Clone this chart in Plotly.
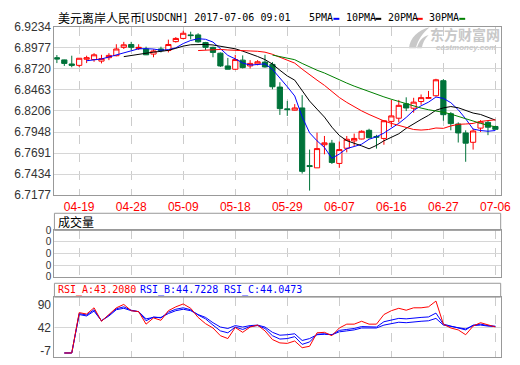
import plotly.graph_objects as go
import pandas as pd

dates = ["04-14", "04-17", "04-18", "04-19", "04-20", "04-21", "04-24", "04-25", "04-26", "04-27", "04-28",
         "05-01", "05-02", "05-03", "05-04", "05-05", "05-08", "05-09", "05-10", "05-11", "05-12",
         "05-15", "05-16", "05-17", "05-18", "05-19", "05-22", "05-23", "05-24", "05-25", "05-26",
         "05-29", "05-30", "05-31", "06-01", "06-02", "06-05", "06-06", "06-07", "06-08", "06-09",
         "06-12", "06-13", "06-14", "06-15", "06-16", "06-19", "06-20", "06-21", "06-22", "06-23",
         "06-26", "06-27", "06-28", "06-29", "06-30", "07-03", "07-04", "07-05", "07-06"]

opens = [6.8856, 6.8829, 6.8779, 6.8762, 6.8837, 6.8833, 6.8814, 6.8856, 6.8880, 6.8982,
         6.9017, 6.8967, 6.8962, 6.8900, 6.8962, 6.8943, 6.9052, 6.9091, 6.9134, 6.9134,
         6.9040, 6.8982, 6.8911, 6.8755, 6.8715, 6.8826, 6.8755, 6.8779, 6.8802, 6.8774,
         6.8497, 6.8231, 6.8215, 6.8242, 6.7538, 6.7511, 6.7793, 6.7812, 6.7565, 6.7750,
         6.7840, 6.7863, 6.7969, 6.7894, 6.7870, 6.8078, 6.8117, 6.8293, 6.8239, 6.8321,
         6.8360, 6.8391, 6.8575, 6.8172, 6.8046, 6.7937, 6.7823, 6.7996, 6.8066, 6.8016]
highs = [6.8888, 6.8832, 6.8880, 6.8851, 6.8880, 6.8911, 6.8891, 6.8911, 6.9020, 6.9049,
         6.9049, 6.9020, 6.8990, 6.8958, 6.8990, 6.9076, 6.9107, 6.9185, 6.9173, 6.9154,
         6.9049, 6.8990, 6.8920, 6.8853, 6.8891, 6.8884, 6.8826, 6.8826, 6.8891, 6.8802,
         6.8556, 6.8328, 6.8289, 6.8398, 6.7734, 6.7941, 6.7900, 6.7852, 6.7832, 6.7900,
         6.7929, 6.7969, 6.7988, 6.7914, 6.8090, 6.8340, 6.8340, 6.8372, 6.8366, 6.8407,
         6.8450, 6.8598, 6.8594, 6.8192, 6.8066, 6.7969, 6.7988, 6.8093, 6.8086, 6.8025]
lows = [6.8790, 6.8755, 6.8739, 6.8743, 6.8790, 6.8806, 6.8786, 6.8826, 6.8873, 6.8962,
        6.8950, 6.8950, 6.8888, 6.8861, 6.8920, 6.8920, 6.9040, 6.9079, 6.9079, 6.9040,
        6.8950, 6.8861, 6.8743, 6.8715, 6.8708, 6.8724, 6.8724, 6.8762, 6.8735, 6.8470,
        6.8157, 6.8145, 6.8211, 6.7441, 6.7233, 6.7511, 6.7676, 6.7558, 6.7511, 6.7700,
        6.7773, 6.7859, 6.7870, 6.7746, 6.7793, 6.8008, 6.8066, 6.8204, 6.8184, 6.8281,
        6.8356, 6.8380, 6.8086, 6.7969, 6.7820, 6.7585, 6.7734, 6.7949, 6.7910, 6.7978]
closes = [6.8839, 6.8786, 6.8762, 6.8849, 6.8856, 6.8891, 6.8844, 6.8884, 6.8962, 6.9013,
          6.8982, 6.8982, 6.8891, 6.8938, 6.8943, 6.9017, 6.9091, 6.9154, 6.9126, 6.9049,
          6.8982, 6.8920, 6.8755, 6.8715, 6.8833, 6.8735, 6.8786, 6.8806, 6.8743, 6.8501,
          6.8234, 6.8222, 6.8242, 6.7468, 6.7527, 6.7746, 6.7816, 6.7577, 6.7734, 6.7860,
          6.7870, 6.7957, 6.7879, 6.7886, 6.8086, 6.8145, 6.8274, 6.8242, 6.8313, 6.8368,
          6.8368, 6.8586, 6.8160, 6.8051, 6.7937, 6.7812, 6.7961, 6.8072, 6.8007, 6.7981]
volume = [0] * 60

rsi_a = [None, -11, -11, 73, 70, 83, 55, 69, 83, 90, 77, 75, 49, 62, 57, 77, 85, 91, 82, 63,
         50, 41, 25, 19, 42, 32, 43, 47, 35, 17, 10, 9, 14, 0, 3, 31, 32, 25, 41, 49,
         49, 55, 49, 49, 69, 77, 82, 78, 83, 83, 85, 97, 49, 41, 37, 27, 45, 52, 47, 43.2080]
rsi_b = [None, -11, -11, 71, 68, 79, 56, 68, 81, 85, 78, 75, 56, 64, 62, 74, 80, 83, 79, 68,
         60, 47, 35, 31, 43, 38, 44, 46, 40, 25, 18, 19, 23, 7, 12, 28, 29, 27, 36, 38,
         40, 44, 43, 43, 54, 57, 61, 60, 62, 63, 64, 72, 49, 45, 41, 37, 47, 49, 46, 44.7228]
rsi_c = [None, -11, -11, 69, 66, 76, 56, 66, 79, 82, 77, 75, 60, 63, 63, 71, 77, 80, 77, 69,
         63, 52, 43, 40, 46, 43, 46, 47, 43, 32, 26, 27, 29, 15, 19, 27, 28, 27, 33, 35,
         37, 41, 41, 41, 47, 50, 53, 52, 54, 55, 56, 61, 47, 44, 42, 39, 46, 47, 45, 44.0473]

price_ticks = [6.9234, 6.8977, 6.8720, 6.8463, 6.8206, 6.7948, 6.7691, 6.7434, 6.7177]
price_tick_text = ["6.9234", "6.8977", "6.8720", "6.8463", "6.8206", "6.7948", "6.7691", "6.7434", "6.7177"]
date_ticks = ["04-19", "04-28", "05-09", "05-18", "05-29", "06-07", "06-16", "06-27", "07-06"]
vol_ticks = [0, 1, 2, 3, 4]
vol_tick_text = ["0", "0", "0", "0", "0"]
rsi_ticks = [90, 42, -7]
rsi_tick_text = ["90", "42", "-7"]
ma_periods = [5, 10, 20, 30]
ma_names = ["5PMA", "10PMA", "20PMA", "30PMA"]
ma_colors = ["#0000ff", "#000000", "#ff0000", "#008000"]

W, H = 520, 365
def fx(p):
    return p / W
def fy(p):
    return 1 - p / H

X0, X1 = 55.5, 510.5
XR = [-0.33, 59.71]
FRAME = "#999999"
GRID = "#d6d6d6"
VGRID = "#cccccc"
GREEN = "#00733a"
WM = "#c8c8c8"
NUMFONT = dict(family="Liberation Sans, Arial", size=12, color="#333333")
VOLFONT = dict(family="Liberation Sans, Arial", size=10, color="#333333")
MONO = "DejaVu Sans Mono, Liberation Mono, monospace"

fig = go.Figure()

fig.add_trace(go.Candlestick(
    x=dates, open=opens, high=highs, low=lows, close=closes,
    increasing=dict(line=dict(color="#ff0000", width=1), fillcolor="#ffffff"),
    decreasing=dict(line=dict(color=GREEN, width=1), fillcolor=GREEN),
    whiskerwidth=0, xaxis="x", yaxis="y", hoverinfo="skip", showlegend=False))

close_s = pd.Series(closes)
for n, c in zip(ma_periods, ma_colors):
    ma = close_s.rolling(n).mean()
    fig.add_trace(go.Scatter(x=dates, y=ma, mode="lines", line=dict(color=c, width=1),
                             xaxis="x", yaxis="y", hoverinfo="skip", showlegend=False))

fig.add_trace(go.Bar(x=dates, y=volume, marker=dict(color=GREEN, line=dict(width=0)),
                     xaxis="x2", yaxis="y2", hoverinfo="skip", showlegend=False))

for vals, c in [(rsi_c, "#0000ff"), (rsi_b, "#0000ff"), (rsi_a, "#ff0000")]:
    fig.add_trace(go.Scatter(x=dates, y=vals, mode="lines", line=dict(color=c, width=1),
                             xaxis="x3", yaxis="y3", hoverinfo="skip", showlegend=False))

def xax(anchor, labels):
    d = dict(type="category", range=XR, domain=[fx(X0), fx(X1)], anchor=anchor,
             showline=True, linecolor=FRAME, linewidth=1, mirror=True,
             showgrid=True, gridcolor=VGRID, griddash="dash", gridwidth=1,
             tickmode="array", tickvals=date_ticks, ticks="", zeroline=False,
             showticklabels=labels, fixedrange=True, ticklabeloverflow="allow")
    if labels:
        d["tickfont"] = dict(family="Liberation Sans, Arial", size=12, color="#ff0000")
        d["ticktext"] = date_ticks
    return d

MAIN = (20.5, 195.7)
VOLH = (214.5, 232.3)
VOL = (232.3, 280.5)
RSIH = (287.3, 301.7)
RSI = (301.7, 364.0)

xa1 = xax("y", True)
xa1["rangeslider"] = dict(visible=False)

layout = dict(
    width=W, height=H, margin=dict(l=0, r=0, t=0, b=0),
    paper_bgcolor="#ffffff", plot_bgcolor="#ffffff",
    showlegend=False, boxgap=0.3, boxgroupgap=0,
    xaxis=xa1, xaxis2=xax("y2", False), xaxis3=xax("y3", False),
    yaxis=dict(domain=[fy(MAIN[1]), fy(MAIN[0])], range=[price_ticks[-1], price_ticks[0]],
               anchor="x", tickmode="array", tickvals=price_ticks, ticktext=price_tick_text,
               showline=True, linecolor=FRAME, mirror=True, showgrid=True, gridcolor=GRID,
               zeroline=False, ticks="", tickfont=NUMFONT, fixedrange=True),
    yaxis2=dict(domain=[fy(VOL[1]), fy(VOL[0])], range=[vol_ticks[0], vol_ticks[-1]], anchor="x2",
                tickmode="array", tickvals=vol_ticks, ticktext=vol_tick_text,
                showline=True, linecolor=FRAME, mirror=True, showgrid=True, gridcolor=GRID,
                zeroline=False, ticks="", tickfont=VOLFONT, fixedrange=True),
    yaxis3=dict(domain=[fy(RSI[1]), fy(RSI[0])], range=[-19.4, 105.2], anchor="x3",
                tickmode="array", tickvals=rsi_ticks, ticktext=rsi_tick_text,
                showline=True, linecolor=FRAME, mirror=True, showgrid=False,
                zeroline=False, ticks="", tickfont=NUMFONT, fixedrange=True),
)
fig.update_layout(**layout)

shapes = []
for (top, bot) in [VOLH, RSIH]:
    shapes.append(dict(type="rect", xref="paper", yref="paper", x0=fx(X0), x1=fx(X1),
                       y0=fy(bot), y1=fy(top), line=dict(color=FRAME, width=1), layer="above"))
shapes.append(dict(type="line", xref="x3 domain", yref="y3", x0=0, x1=1, y0=42, y1=42,
                   line=dict(color=GRID, width=1), layer="below"))

# watermark swoosh logo (light grey)
def P(x, y):
    return f"{fx(x):.5f},{fy(y):.5f}"
swoosh = ("M " + P(417, 43) + " C " + P(418, 32) + " " + P(426, 24) + " " + P(438, 21) +
          " C " + P(431, 27) + " " + P(426, 34) + " " + P(424, 43) + " Z")
shapes.append(dict(type="path", xref="paper", yref="paper", path=swoosh,
                   fillcolor=WM, line=dict(width=0), layer="below"))
swoosh2 = ("M " + P(425, 43) + " C " + P(427, 35) + " " + P(431, 31) + " " + P(437, 29) +
           " C " + P(433, 33) + " " + P(431, 37) + " " + P(430, 43) + " Z")
shapes.append(dict(type="path", xref="paper", yref="paper", path=swoosh2,
                   fillcolor=WM, line=dict(width=0), layer="below"))

ann = []
ann.append(dict(text="美元离岸人民币", x=fx(57), y=fy(10.7), xref="paper", yref="paper",
                xanchor="left", yanchor="middle", showarrow=False,
                font=dict(family="Noto Sans CJK SC", size=12, color="#000000")))
ann.append(dict(text="[USDCNH] 2017-07-06 09:01", x=fx(141), y=fy(10.7), xref="paper", yref="paper",
                xanchor="left", yanchor="middle", showarrow=False,
                font=dict(family=MONO, size=10, color="#000000")))
leg_text_x = [313.3, 350.7, 393.3, 435.0]
leg_dash_x = [340.0, 382.7, 425.0, 468.3]
for name, c, tx, dx in zip(ma_names, ma_colors, leg_text_x, leg_dash_x):
    ann.append(dict(text=name, x=fx(tx), y=fy(10.7), xref="paper", yref="paper",
                    xanchor="left", yanchor="middle", showarrow=False,
                    font=dict(family=MONO, size=10, color="#000000")))
    shapes.append(dict(type="line", xref="paper", yref="paper", x0=fx(dx), x1=fx(dx + 6),
                       y0=fy(12.3), y1=fy(12.3), line=dict(color=c, width=2)))

ann.append(dict(text="<b>东方财富网</b>", x=fx(474), y=fy(28.5), xref="paper", yref="paper",
                xanchor="center", yanchor="middle", showarrow=False,
                font=dict(family="Noto Sans CJK SC", size=14, color=WM)))
ann.append(dict(text="<b><i>eastmoney.com</i></b>", x=fx(475), y=fy(42.5), xref="paper", yref="paper",
                xanchor="center", yanchor="middle", showarrow=False,
                font=dict(family="Liberation Sans, Arial", size=8, color=WM)))

ann.append(dict(text="成交量", x=fx(57), y=fy(223.3), xref="paper", yref="paper",
                xanchor="left", yanchor="middle", showarrow=False,
                font=dict(family="Noto Sans CJK SC", size=12, color="#000000")))

rsi_labels = [("RSI_A:43.2080", "#ff0000", 57.3), ("RSI_B:44.7228", "#0000ff", 141.0),
              ("RSI_C:44.0473", "#0000ff", 226.0)]
for t, c, xx in rsi_labels:
    ann.append(dict(text=t, x=fx(xx), y=fy(294.3), xref="paper", yref="paper",
                    xanchor="left", yanchor="middle", showarrow=False,
                    font=dict(family=MONO, size=10, color=c)))

fig.update_layout(shapes=shapes, annotations=ann)
fig.write_html("out.html", config={"displayModeBar": False},
               post_script="document.body.style.margin='0px';document.body.style.overflow='hidden';")
